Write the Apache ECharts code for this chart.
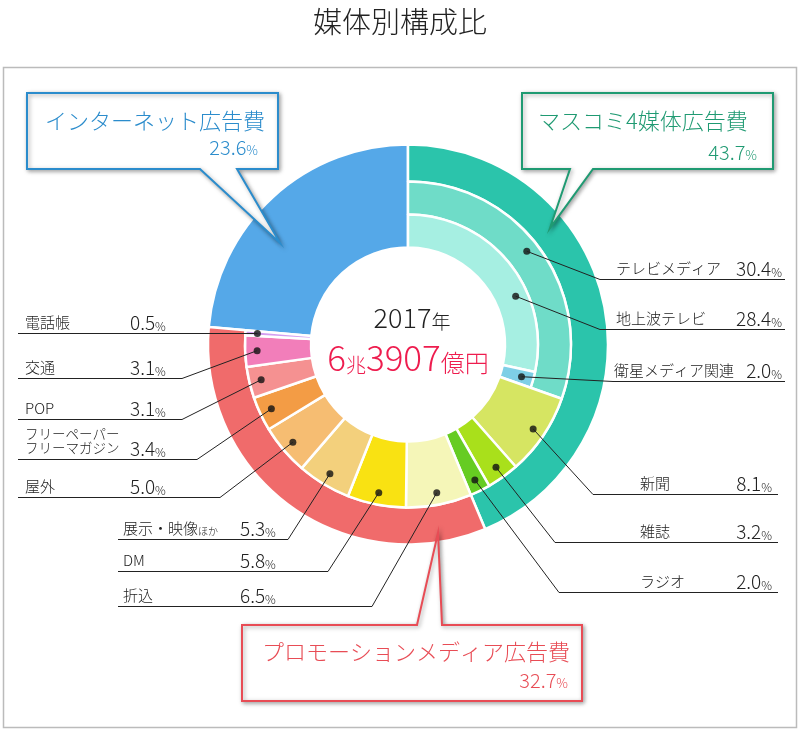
<!DOCTYPE html>
<html><head><meta charset="utf-8">
<script src="https://cdn.jsdelivr.net/npm/echarts@6/dist/echarts.min.js"></script>
<style>html,body{margin:0;padding:0;background:#fff}#c{width:800px;height:731px}</style>
</head><body><div id="c"></div>
<script>
// ---------------- data ----------------
const chartTitle = '媒体別構成比';
const yearLabel = ['2017', '年'];
const totalLabel = ['6', '兆', '3907', '億円'];
const majorNames = ['マスコミ4媒体広告費', 'プロモーションメディア広告費', 'インターネット広告費'];
const majorValues = [43.7, 32.7, 23.6];
const massNames = ['テレビメディア', '新聞', '雑誌', 'ラジオ'];
const massValues = [30.4, 8.1, 3.2, 2.0];
const tvNames = ['地上波テレビ', '衛星メディア関連'];
const tvValues = [28.4, 2.0];
const promoNames = ['折込', 'DM', '展示・映像ほか', '屋外', 'フリーペーパー・フリーマガジン', 'POP', '交通', '電話帳'];
const promoValues = [6.5, 5.8, 5.3, 5.0, 3.4, 3.1, 3.1, 0.5];

// ---------------- styles ----------------
const FONT = "'Noto Sans CJK JP', 'Noto Sans', sans-serif";
const FW = 300;
const majorColors = ['#2bc4ab', '#f06b6b', '#55a8e8'];
const majorTextColors = ['#1f9a72', '#e84c55', '#2b8ccc'];
const massColors = ['#6fdcc8', '#d6e562', '#a9e01b', '#66cc22'];
const tvColors = ['#a6efe2', '#7ecfe6'];
const promoColors = ['#f5f6b8', '#f9e212', '#f3d07c', '#f6bd72', '#f39c45', '#f59191', '#f27eba', '#d49ef0'];
const CENTER = [408, 344.5];
const R_HOLE = 97, R_TV_IN = 130, R_MID = 163, R_OUT = 200;

// label placement (layout only)
const place = {
  'テレビメディア': {side: 'R', uy: 279, bend: 600, end: 785, nx: 616, vx: 782, r: 151, f: 0.474},
  '地上波テレビ': {side: 'R', uy: 329, bend: 600, end: 785, nx: 616, vx: 782, r: 118, f: 0.644},
  '衛星メディア関連': {side: 'R', uy: 381, bend: 613, end: 785, nx: 614, vx: 782, r: 118, f: 0.5},
  '新聞': {side: 'R', uy: 494, bend: 593, end: 778, nx: 640, vx: 772, r: 151, f: 0.5},
  '雑誌': {side: 'R', uy: 542, bend: 555, end: 778, nx: 640, vx: 772, r: 151, f: 0.5},
  'ラジオ': {side: 'R', uy: 592, bend: 559, end: 778, nx: 640, vx: 772, r: 151, f: 0.5},
  '電話帳': {side: 'L', uy: 333, bend: null, end: 18, nx: 25, vx: 130, r: 151, f: 0.5},
  '交通': {side: 'L', uy: 378, bend: 182, end: 18, nx: 25, vx: 130, r: 151, f: 0.5},
  'POP': {side: 'L', uy: 419, bend: 182, end: 18, nx: 25, vx: 130, r: 151, f: 0.5},
  'フリーペーパー・フリーマガジン': {side: 'L', uy: 459, bend: 197, end: 18, nx: 25, vx: 130, r: 151, f: 0.5, two: true},
  '屋外': {side: 'L', uy: 497, bend: 220, end: 18, nx: 25, vx: 130, r: 151, f: 0.5},
  '展示・映像ほか': {side: 'L', uy: 539, bend: 288, end: 118, nx: 123, vx: 240, r: 151, f: 0.5},
  'DM': {side: 'L', uy: 571, bend: 328, end: 118, nx: 123, vx: 240, r: 151, f: 0.5},
  '折込': {side: 'L', uy: 606, bend: 372, end: 118, nx: 123, vx: 240, r: 151, f: 0.5}
};

// ---------------- build ----------------
const sum = a => a.reduce((s, v) => s + v, 0);
const total = sum(majorValues);
const tp = v => ({value: v, itemStyle: {color: 'rgba(0,0,0,0)', borderWidth: 0}});
const item = (name, value, color) => ({name, value, itemStyle: {color}});

function ring(radius, data) {
  return {
    type: 'pie', center: CENTER, radius, startAngle: 90, clockwise: true,
    silent: true, animation: false, label: {show: false}, labelLine: {show: false},
    itemStyle: {borderColor: '#fff', borderWidth: 2.5}, data
  };
}

const sInternet = ring([R_HOLE, R_OUT], [tp(majorValues[0]), tp(majorValues[1]), item(majorNames[2], majorValues[2], majorColors[2])]);
const sOuter = ring([R_MID, R_OUT], [item(majorNames[0], majorValues[0], majorColors[0]), item(majorNames[1], majorValues[1], majorColors[1]), tp(majorValues[2])]);
const sTv = ring([R_TV_IN, R_MID], [item(massNames[0], massValues[0], massColors[0]), tp(total - massValues[0])]);
const sTvSub = ring([R_HOLE, R_TV_IN], tvNames.map((n, i) => item(n, tvValues[i], tvColors[i])).concat([tp(total - sum(tvValues))]));
const sInner = ring([R_HOLE, R_MID], [tp(massValues[0])]
  .concat(massNames.slice(1).map((n, i) => item(n, massValues[i + 1], massColors[i + 1])))
  .concat(promoNames.map((n, i) => item(n, promoValues[i], promoColors[i])))
  .concat([tp(majorValues[2])]));

// labelled items with their angular start (percent of circle, clockwise from top)
const labelItems = [];
let acc = 0;
massNames.forEach((n, i) => {
  labelItems.push({name: n, value: massValues[i], start: acc});
  if (i === 0) {
    let a2 = acc;
    tvNames.forEach((t, j) => { labelItems.push({name: t, value: tvValues[j], start: a2}); a2 += tvValues[j]; });
  }
  acc += massValues[i];
});
promoNames.forEach((n, i) => { labelItems.push({name: n, value: promoValues[i], start: acc}); acc += promoValues[i]; });

const dots = labelItems.map(it => {
  const p = place[it.name];
  return [p.r, it.start + it.value * p.f];
});

const chart = echarts.init(document.getElementById('c'), null, {renderer: 'canvas'});
chart.setOption({
  animation: false,
  title: {text: chartTitle, left: 'center', top: 2, textStyle: {fontFamily: FONT, fontSize: 29, fontWeight: FW, color: '#222'}},
  polar: {center: CENTER, radius: R_OUT},
  angleAxis: {type: 'value', min: 0, max: 100, startAngle: 90, clockwise: true, show: false},
  radiusAxis: {type: 'value', min: 0, max: R_OUT, show: false},
  series: [sInternet, sOuter, sTv, sTvSub, sInner, {
    type: 'scatter', coordinateSystem: 'polar', symbolSize: 7, silent: true, z: 5,
    itemStyle: {color: '#111'}, data: dots
  }]
});

// ---------------- annotations ----------------
const g = [];
g.push({type: 'rect', z: 0, silent: true, shape: {x: 3.5, y: 67.5, width: 793, height: 660}, style: {fill: 'none', stroke: '#bbb', lineWidth: 1.5}});

const valRich = (big, small) => ({
  v: {fontFamily: FONT, fontWeight: FW, fontSize: big, lineHeight: big + 4, verticalAlign: 'bottom'},
  p: {fontFamily: FONT, fontWeight: FW, fontSize: small, lineHeight: big + 4, verticalAlign: 'bottom'}
});

labelItems.forEach((it, k) => {
  const p = place[it.name];
  const pt = chart.convertToPixel({seriesIndex: 5}, dots[k]);
  const uy = p.uy + 0.5;
  const bx = p.bend == null ? pt[0] : p.bend;
  g.push({type: 'polyline', z: 20, silent: true, shape: {points: [pt, [bx, uy], [p.end, uy]]}, style: {stroke: '#222', lineWidth: 1, fill: null}});
  const ty = p.uy - 11;
  if (p.two) {
    const parts = it.name.split('・');
    g.push({type: 'text', z: 20, silent: true, x: p.nx, y: ty - 14, style: {text: parts[0], fontFamily: FONT, fontWeight: FW, fontSize: 13.5, fill: '#222', align: 'left', verticalAlign: 'middle'}});
    g.push({type: 'text', z: 20, silent: true, x: p.nx, y: ty, style: {text: parts[1], fontFamily: FONT, fontWeight: FW, fontSize: 13.5, fill: '#222', align: 'left', verticalAlign: 'middle'}});
  } else if (/ほか$/.test(it.name)) {
    const main = it.name.replace(/ほか$/, '');
    g.push({type: 'text', z: 20, silent: true, x: p.nx, y: ty + 8, style: {
      text: '{n|' + main + '}{s|ほか}', fill: '#222', align: 'left', verticalAlign: 'bottom',
      rich: {n: {fontFamily: FONT, fontWeight: FW, fontSize: 15, lineHeight: 18, verticalAlign: 'bottom'}, s: {fontFamily: FONT, fontWeight: FW, fontSize: 10, lineHeight: 18, verticalAlign: 'bottom'}}
    }});
  } else {
    g.push({type: 'text', z: 20, silent: true, x: p.nx, y: ty, style: {text: it.name, fontFamily: FONT, fontWeight: FW, fontSize: 15, fill: '#222', align: 'left', verticalAlign: 'middle'}});
  }
  g.push({type: 'text', z: 20, silent: true, x: p.vx, y: ty + 10, style: {
    text: '{v|' + it.value.toFixed(1) + '}{p|%}', fill: '#222', align: p.side === 'R' ? 'right' : 'left', verticalAlign: 'bottom', rich: valRich(19, 12)
  }});
});

// callout boxes
const boxes = [
  {i: 2, pts: [[27, 93], [278, 93], [278, 169], [237, 169], [280, 243], [200, 169], [27, 169]], nx: 45, ny: 121, vx: 258, vy: 157},
  {i: 0, pts: [[522, 93], [773, 93], [773, 169], [593, 169], [550, 228], [570, 169], [522, 169]], nx: 538, ny: 121, vx: 757, vy: 162},
  {i: 1, pts: [[242, 625], [417, 625], [438, 533], [442, 625], [582, 625], [582, 701], [242, 701]], nx: 262, ny: 652, vx: 568, vy: 690}
];
boxes.forEach(b => {
  g.push({type: 'polygon', z: 30, silent: true, shape: {points: b.pts}, style: {
    fill: '#fff', stroke: majorTextColors[b.i], lineWidth: 2, lineJoin: 'miter',
    shadowBlur: 4, shadowColor: 'rgba(0,0,0,0.35)', shadowOffsetX: 1.5, shadowOffsetY: 1.5
  }});
  g.push({type: 'text', z: 31, silent: true, x: b.nx, y: b.ny, style: {text: majorNames[b.i], fontFamily: FONT, fontWeight: FW, fontSize: 22, fill: majorTextColors[b.i], align: 'left', verticalAlign: 'middle'}});
  g.push({type: 'text', z: 31, silent: true, x: b.vx, y: b.vy, style: {
    text: '{v|' + majorValues[b.i].toFixed(1) + '}{p|%}', fill: majorTextColors[b.i], align: 'right', verticalAlign: 'bottom', rich: valRich(20, 13)
  }});
});

// center total
g.push({type: 'text', z: 20, silent: true, x: 412, y: 331, style: {
  text: '{a|' + yearLabel[0] + '}{b|' + yearLabel[1] + '}', fill: '#222', align: 'center', verticalAlign: 'bottom',
  rich: {a: {fontFamily: FONT, fontWeight: FW, fontSize: 27, lineHeight: 32, verticalAlign: 'bottom'}, b: {fontFamily: FONT, fontWeight: FW, fontSize: 19, lineHeight: 32, verticalAlign: 'bottom'}}
}});
g.push({type: 'text', z: 20, silent: true, x: 408, y: 375, style: {
  text: '{a|' + totalLabel[0] + '}{b|' + totalLabel[1] + '}{a|' + totalLabel[2] + '}{c|' + totalLabel[3] + '}', fill: '#ee1c4e', align: 'center', verticalAlign: 'bottom',
  rich: {
    a: {fontFamily: FONT, fontWeight: FW, fontSize: 35, lineHeight: 40, verticalAlign: 'bottom'},
    b: {fontFamily: FONT, fontWeight: FW, fontSize: 20, lineHeight: 40, verticalAlign: 'bottom'},
    c: {fontFamily: FONT, fontWeight: FW, fontSize: 24, lineHeight: 40, verticalAlign: 'bottom'}
  }
}});

chart.setOption({graphic: g});
</script>
</body></html>
